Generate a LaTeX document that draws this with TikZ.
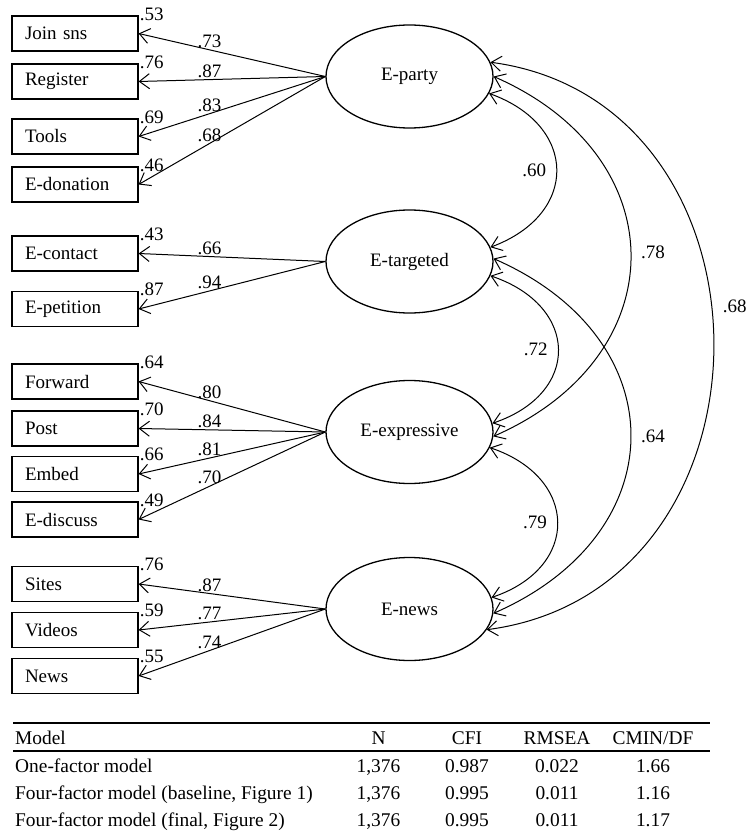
\documentclass[tikz,border=0pt]{standalone}
\usepackage{fontspec}
\setmainfont{Liberation Serif}
\usetikzlibrary{arrows.meta,shapes.geometric}
\begin{document}
\begin{tikzpicture}[x=1pt,y=-1pt,
  font=\fontsize{19}{22}\selectfont,
  obs/.style={draw, line width=1.2pt, rectangle, minimum height=35pt, text width=100pt, inner xsep=13pt, inner ysep=0pt, align=left},
  lat/.style={draw, line width=1.3pt, ellipse, minimum width=167pt, minimum height=103pt, inner sep=0pt},
  tipb/.tip={Straight Barb[length=10pt,width=15pt]},
  load/.style={-tipb, line width=1pt},
  cor/.style={tipb-tipb, line width=1pt},
  lab/.style={inner sep=1.5pt, pos=0.62, above},
  err/.style={anchor=base west, inner sep=0pt, xshift=1pt, yshift=-5pt},
  cl/.style={inner sep=0pt, anchor=base, font=\fontsize{19.4}{22}\selectfont},
  cw/.style={inner sep=0pt, anchor=base west, font=\fontsize{19.4}{22}\selectfont},
  tabrule/.style={line width=2pt}
]
\useasboundingbox (0,0) rectangle (748,834);

% observed variables
\node[obs] (join) at (75,33.5) {Join sns};
\node[obs] (reg)  at (75,81.5) {Register};
\node[obs] (tool) at (75,136.5) {Tools};
\node[obs] (don)  at (75,184.5) {E-donation};
\node[obs] (con)  at (75,253.5) {E-contact};
\node[obs] (pet)  at (75,309) {E-petition};
\node[obs] (fwd)  at (75,381.5) {Forward};
\node[obs] (post) at (75,428.5) {Post};
\node[obs] (emb)  at (75,474) {Embed};
\node[obs] (dis)  at (75,519.5) {E-discuss};
\node[obs] (site) at (75,584) {Sites};
\node[obs] (vid)  at (75,630) {Videos};
\node[obs] (news) at (75,676) {News};

% error / R2 labels
\node[err] (rj) at (join.north east) {.53};
\node[err] (rr) at (reg.north east) {.76};
\node[err] (rt) at (tool.north east) {.69};
\node[err] (rd) at (don.north east) {.46};
\node[err] (rc) at (con.north east) {.43};
\node[err] (rp) at (pet.north east) {.87};
\node[err] (rf) at (fwd.north east) {.64};
\node[err] (ro) at (post.north east) {.70};
\node[err] (re) at (emb.north east) {.66};
\node[err] (ri) at (dis.north east) {.49};
\node[err] (rs) at (site.north east) {.76};
\node[err] (rv) at (vid.north east) {.59};
\node[err] (rn) at (news.north east) {.55};

% latent variables
\node[lat] (party) at (409.5,76.5) {E-party};
\node[lat] (targ)  at (409.5,261.5) {E-targeted};
\node[lat] (expr)  at (409.5,432) {E-expressive};
\node[lat] (enews) at (409.5,609) {E-news};

% loadings
\draw[load] (party.west) -- node[lab]{.73} (join.east);
\draw[load] (party.west) -- node[lab]{.87} (reg.east);
\draw[load] (party.west) -- node[lab]{.83} (tool.east);
\draw[load] (party.west) -- node[lab]{.68} (don.east);
\draw[load] (targ.west) -- node[lab]{.66} (con.east);
\draw[load] (targ.west) -- node[lab]{.94} (pet.east);
\draw[load] (expr.west) -- node[lab]{.80} (fwd.east);
\draw[load] (expr.west) -- node[lab]{.84} (post.east);
\draw[load] (expr.west) -- node[lab]{.81} (emb.east);
\draw[load] (expr.west) -- node[lab]{.70} (dis.east);
\draw[load] (enews.west) -- node[lab]{.87} (site.east);
\draw[load] (enews.west) -- node[lab]{.77} (vid.east);
\draw[load] (enews.west) -- node[lab]{.74} (news.east);

% correlations
\draw[cor] (party.-12) .. controls +(89,32) and +(89,-33) .. node[pos=0.5, left, inner sep=0pt, xshift=-10pt]{.60} (targ.10);
\draw[cor] (targ.-10) .. controls +(89,30) and +(89,-30) .. node[pos=0.5, left, inner sep=0pt, xshift=-10pt]{.72} (expr.6);
\draw[cor] (expr.-11) .. controls +(89,30) and +(89,-30) .. node[pos=0.5, left, inner sep=0pt, xshift=-10pt]{.79} (enews.8);
\draw[cor] (party.0) .. controls +(183,80) and +(183,-80) .. node[pos=0.49, right, inner sep=0pt, xshift=10pt]{.78} (expr.-3);
\draw[cor] (targ.2) .. controls +(183,80) and +(183,-80) .. node[pos=0.5, right, inner sep=0pt, xshift=10pt]{.64} (enews.-3);
\draw[cor] (party.10) .. controls +(298,40) and +(302,-40) .. node[pos=0.45, right, inner sep=0pt, xshift=11pt]{.68} (enews.-15);

% table
\coordinate (tl) at (13,723);
\coordinate (tr) at (710,723);
\coordinate (ml) at (13,751);
\coordinate (mr) at (710,751);
\draw[tabrule] (tl) -- (tr);
\draw[tabrule] (ml) -- (mr);

\node[cw] (h0) at (15,744) {Model};
\node[cl] (h1) at (378.5,744) {N};
\node[cl] (h2) at (467,744) {CFI};
\node[cl] (h3) at (557,744) {RMSEA};
\node[cl] (h4) at (653,744) {CMIN/DF};

\node[cw] (a0) at (15,772) {One-factor model};
\node[cl] (a1) at (378.5,772) {1,376};
\node[cl] (a2) at (467,772) {0.987};
\node[cl] (a3) at (557,772) {0.022};
\node[cl] (a4) at (653,772) {1.66};

\node[cw] (b0) at (15,799) {Four-factor model (baseline, Figure 1)};
\node[cl] (b1) at (378.5,799) {1,376};
\node[cl] (b2) at (467,799) {0.995};
\node[cl] (b3) at (557,799) {0.011};
\node[cl] (b4) at (653,799) {1.16};

\node[cw] (c0) at (15,826) {Four-factor model (final, Figure 2)};
\node[cl] (c1) at (378.5,826) {1,376};
\node[cl] (c2) at (467,826) {0.995};
\node[cl] (c3) at (557,826) {0.011};
\node[cl] (c4) at (653,826) {1.17};
\end{tikzpicture}
\end{document}
